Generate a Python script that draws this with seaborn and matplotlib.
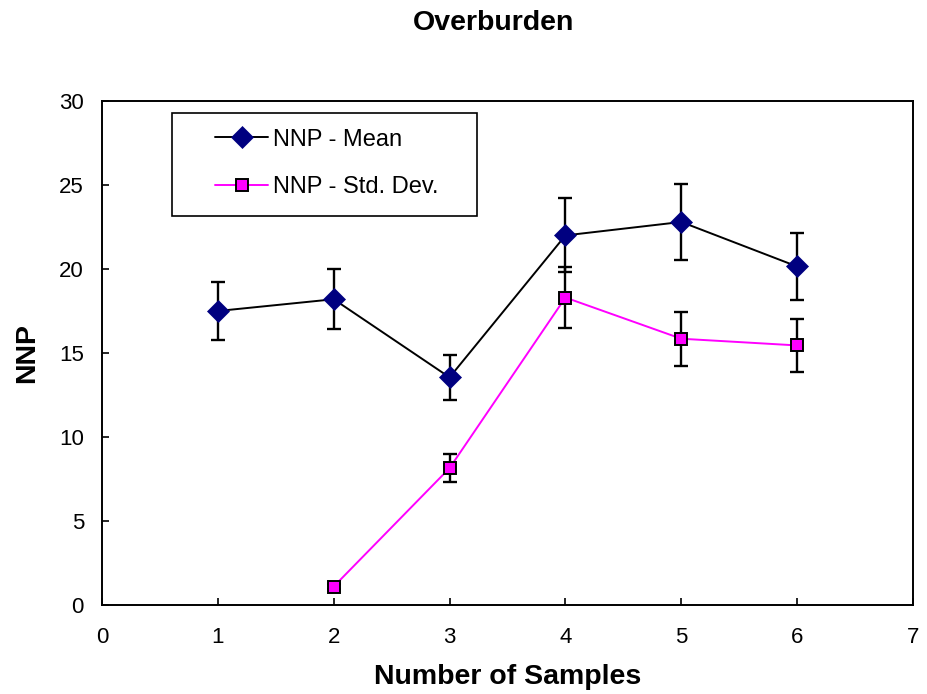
import matplotlib
matplotlib.use("Agg")
import matplotlib.pyplot as plt
from matplotlib.patches import Rectangle
import numpy as np
import pandas as pd
import seaborn as sns

# Data
samples_mean = [1, 2, 3, 4, 5, 6]
nnp_mean = [17.5, 18.2, 13.55, 22.0, 22.8, 20.15]
nnp_mean_err = [1.72, 1.8, 1.35, 2.2, 2.27, 2.0]

samples_sd = [2, 3, 4, 5, 6]
nnp_sd = [1.1, 8.15, 18.3, 15.85, 15.45]
nnp_sd_err = [0.15, 0.82, 1.8, 1.62, 1.57]

series_labels = ["NNP - Mean", "NNP - Std. Dev."]
chart_title = "Overburden"
x_label = "Number of Samples"
y_label = "NNP"

sns.set_style("white")
plt.rcParams["font.family"] = ["Liberation Sans", "DejaVu Sans"]
plt.rcParams["text.color"] = "black"
plt.rcParams["axes.labelcolor"] = "black"
plt.rcParams["xtick.color"] = "black"
plt.rcParams["ytick.color"] = "black"

DPI = 100
fig = plt.figure(figsize=(9.27, 6.94), dpi=DPI)
ax = fig.add_axes([102 / 927, 1 - 605 / 694, 811 / 927, 504 / 694])

df_mean = pd.DataFrame({"x": samples_mean, "y": nnp_mean})
df_sd = pd.DataFrame({"x": samples_sd, "y": nnp_sd})

# Error bars underneath the markers
eb_kw = dict(fmt="none", ecolor="black", elinewidth=1.7, capsize=5, capthick=1.7, zorder=2)
ax.errorbar(samples_mean, nnp_mean, yerr=nnp_mean_err, **eb_kw)
ax.errorbar(samples_sd, nnp_sd, yerr=nnp_sd_err, **eb_kw)

sns.lineplot(data=df_mean, x="x", y="y", ax=ax, color="black", linewidth=1.4,
             marker="D", markersize=11, markerfacecolor="#000080",
             markeredgecolor="#000080", markeredgewidth=0.5,
             label=series_labels[0], legend=False, zorder=3)
sns.lineplot(data=df_sd, x="x", y="y", ax=ax, color="#FF00FF", linewidth=1.4,
             marker="s", markersize=9.2, markerfacecolor="#FF00FF",
             markeredgecolor="black", markeredgewidth=1.4,
             label=series_labels[1], legend=False, zorder=3)

ax.set_xlim(0, 7)
ax.set_ylim(0, 30)
ax.set_xticks(range(0, 8))
ax.set_yticks(range(0, 31, 5))

for s in ax.spines.values():
    s.set_visible(True)
    s.set_color("black")
    s.set_linewidth(1.4)

ax.tick_params(axis="both", direction="in", length=5, width=1.2, colors="black",
               labelsize=16)
ax.tick_params(axis="x", pad=16, bottom=True)
ax.tick_params(axis="y", pad=13, left=True)
ax.tick_params(axis="x", which="both", top=False)
ax.tick_params(axis="y", which="both", right=False)

ax.set_xlabel(x_label, fontsize=20.5, fontweight="bold", labelpad=11)
ax.set_ylabel(y_label, fontsize=20.5, fontweight="bold", labelpad=14)

fig.text(494 / 927, 1 - 23 / 694, chart_title, fontsize=20.5, fontweight="bold",
         ha="center", va="center")

# Legend with a separate frame
leg = ax.legend(loc="center left", bbox_to_anchor=(0.1393, 0.876), frameon=False,
                fontsize=17, handlelength=2.25, handletextpad=0.2,
                labelspacing=1.1, borderpad=0, borderaxespad=0, numpoints=1)
ax.add_patch(Rectangle((70.3 / 811, (605 - 216) / 504), 304.4 / 811, 102.7 / 504,
                       transform=ax.transAxes, fill=False, edgecolor="black",
                       linewidth=1.2, zorder=4))

fig.savefig("out.png", dpi=DPI, facecolor="white")
